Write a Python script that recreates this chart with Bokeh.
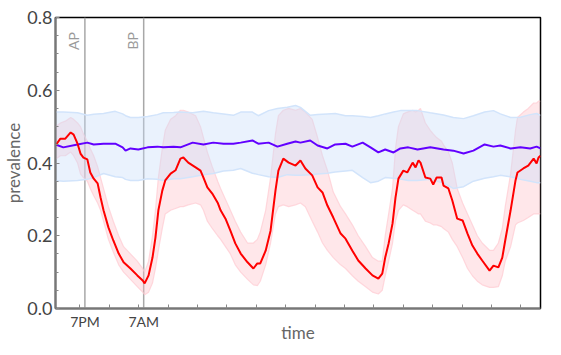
import math
from bokeh.plotting import figure
from bokeh.models import Range1d, FixedTicker, PrintfTickFormatter, Span, Label
from bokeh.embed import file_html
from bokeh.resources import INLINE

# ---- data (hours since start of record) ----
red_hours = [0.0, 1.0, 2.0, 3.1, 3.7, 4.5, 5.1, 5.7, 6.5, 7.1, 7.8, 8.6, 9.2, 9.8, 10.8, 11.8, 12.9, 13.9,
             15.3, 16.7, 17.8, 18.2, 19.0, 19.8, 20.4, 21.0, 21.8, 22.4, 23.5, 24.5, 25.5,
             26.1, 27.1, 28.6, 29.6, 30.2, 31.0, 32.0, 33.1, 33.7, 34.7, 35.7, 36.7, 37.8, 39.2, 40.4,
             41.2, 41.8, 42.9, 43.9, 44.9, 45.5, 46.5, 47.6, 49.0, 50.0,
             51.0, 52.4, 53.5, 54.5, 55.5, 56.7, 58.2, 59.2, 60.6, 61.8, 63.3, 64.7, 65.9, 66.7, 67.3,
             68.0, 68.8, 69.4, 70.0, 71.0, 71.8, 72.9, 73.5, 74.1,
             74.5, 75.5, 76.5, 77.1, 77.8, 78.8, 79.2, 80.2, 81.0, 82.0, 83.1, 84.1, 85.1, 86.1, 87.1,
             88.6, 89.4, 90.4, 91.2, 91.8, 92.9, 93.9, 94.3, 95.5, 96.5, 97.6, 98.2, 98.6, 99.0]
red_mean = [0.448, 0.467, 0.467, 0.484, 0.478, 0.453, 0.426, 0.415, 0.410, 0.374, 0.357, 0.344, 0.305, 0.270,
            0.223, 0.187, 0.151, 0.127, 0.110, 0.091, 0.077, 0.069, 0.091, 0.140, 0.195, 0.270, 0.324, 0.352,
            0.371, 0.380, 0.412,
            0.415, 0.401, 0.388, 0.379, 0.360, 0.333, 0.316, 0.291, 0.270, 0.247, 0.214, 0.179, 0.151, 0.127,
            0.110, 0.124, 0.124, 0.159, 0.214, 0.324, 0.379, 0.412, 0.401, 0.393, 0.407,
            0.385, 0.366, 0.333, 0.319, 0.283, 0.250, 0.206, 0.192, 0.159, 0.132, 0.110, 0.091, 0.082, 0.096,
            0.140, 0.179, 0.234, 0.305, 0.357, 0.379, 0.374, 0.401, 0.388, 0.407,
            0.401, 0.360, 0.357, 0.341, 0.360, 0.360, 0.338, 0.330, 0.297, 0.247, 0.242, 0.206, 0.173, 0.151,
            0.132, 0.104, 0.118, 0.113, 0.140, 0.187, 0.270, 0.352, 0.374, 0.385, 0.393, 0.412, 0.399, 0.415,
            0.420]
red_upper = [0.500, 0.510, 0.515, 0.525, 0.520, 0.510, 0.500, 0.480, 0.460, 0.440, 0.420, 0.390, 0.360, 0.330,
             0.280, 0.240, 0.200, 0.170, 0.150, 0.130, 0.110, 0.100, 0.130, 0.200, 0.270, 0.360, 0.440, 0.490,
             0.520, 0.530, 0.545,
             0.545, 0.540, 0.530, 0.500, 0.470, 0.430, 0.390, 0.350, 0.330, 0.300, 0.270, 0.240, 0.210, 0.180,
             0.180, 0.190, 0.210, 0.270, 0.360, 0.480, 0.530, 0.545, 0.550, 0.545, 0.550,
             0.540, 0.520, 0.470, 0.420, 0.380, 0.320, 0.280, 0.260, 0.230, 0.200, 0.170, 0.140, 0.130, 0.130,
             0.200, 0.260, 0.330, 0.440, 0.500, 0.535, 0.540, 0.545, 0.540, 0.545,
             0.550, 0.510, 0.490, 0.480, 0.470, 0.460, 0.450, 0.430, 0.400, 0.330, 0.290, 0.260, 0.230, 0.200,
             0.180, 0.160, 0.160, 0.180, 0.220, 0.280, 0.370, 0.490, 0.525, 0.540, 0.550, 0.565, 0.565, 0.570,
             0.570]
red_lower = [0.410, 0.420, 0.420, 0.430, 0.420, 0.400, 0.370, 0.360, 0.350, 0.330, 0.310, 0.290, 0.270, 0.240,
             0.190, 0.155, 0.120, 0.100, 0.080, 0.060, 0.045, 0.038, 0.045, 0.070, 0.110, 0.160, 0.220, 0.260,
             0.270, 0.275, 0.280,
             0.280, 0.285, 0.290, 0.285, 0.270, 0.240, 0.220, 0.200, 0.190, 0.170, 0.150, 0.120, 0.100, 0.080,
             0.065, 0.063, 0.075, 0.120, 0.180, 0.260, 0.280, 0.285, 0.280, 0.285, 0.290,
             0.280, 0.240, 0.210, 0.180, 0.160, 0.140, 0.120, 0.110, 0.090, 0.075, 0.060, 0.045, 0.040, 0.050,
             0.090, 0.130, 0.180, 0.240, 0.270, 0.285, 0.280, 0.270, 0.265, 0.260,
             0.260, 0.240, 0.235, 0.230, 0.230, 0.225, 0.220, 0.210, 0.190, 0.170, 0.140, 0.110, 0.090, 0.075,
             0.065, 0.058, 0.058, 0.060, 0.090, 0.130, 0.170, 0.230, 0.235, 0.242, 0.250, 0.260, 0.260, 0.260,
             0.260]

blue_hours = [0.0, 1.6, 4.5, 6.5, 7.8, 9.8, 12.2, 13.7, 14.3, 15.3, 16.9, 18.8, 20.8, 22.0, 24.1, 25.5,
              28.0, 30.2, 32.2, 34.3, 36.3, 37.8, 40.2, 41.4, 43.5, 45.3, 47.3, 49.0, 50.0, 52.0, 53.5,
              55.5, 57.1, 59.2, 60.6, 62.7, 64.3, 65.9, 67.3, 69.0, 70.4, 72.0, 73.9, 76.5, 79.2, 81.2,
              83.3, 85.3, 87.6, 89.4, 90.8, 92.9, 94.9, 96.9, 98.2, 99.0]
blue_mean = [0.451, 0.443, 0.451, 0.456, 0.451, 0.453, 0.453, 0.443, 0.434, 0.440, 0.437, 0.443, 0.445, 0.443,
             0.445, 0.443, 0.456, 0.451, 0.456, 0.453, 0.453, 0.456, 0.462, 0.453, 0.456, 0.445, 0.453, 0.459,
             0.456, 0.462, 0.448, 0.440, 0.451, 0.453, 0.445, 0.456, 0.443, 0.429, 0.437, 0.429, 0.440, 0.443,
             0.437, 0.443, 0.437, 0.434, 0.426, 0.434, 0.451, 0.445, 0.448, 0.440, 0.443, 0.440, 0.445, 0.440]
blue_upper = [0.540, 0.540, 0.538, 0.531, 0.534, 0.536, 0.542, 0.535, 0.530, 0.525, 0.525, 0.528, 0.533, 0.538,
              0.539, 0.540, 0.538, 0.542, 0.538, 0.535, 0.531, 0.540, 0.540, 0.530, 0.544, 0.550, 0.553, 0.558,
              0.553, 0.531, 0.533, 0.535, 0.536, 0.530, 0.530, 0.528, 0.525, 0.530, 0.535, 0.540, 0.544, 0.544,
              0.544, 0.538, 0.532, 0.525, 0.522, 0.530, 0.540, 0.544, 0.535, 0.525, 0.526, 0.533, 0.536, 0.531]
blue_lower = [0.352, 0.350, 0.352, 0.355, 0.360, 0.371, 0.362, 0.360, 0.355, 0.352, 0.352, 0.357, 0.355, 0.352,
              0.357, 0.357, 0.362, 0.368, 0.371, 0.378, 0.380, 0.385, 0.372, 0.368, 0.362, 0.360, 0.368, 0.366,
              0.366, 0.368, 0.370, 0.372, 0.375, 0.378, 0.380, 0.360, 0.346, 0.350, 0.360, 0.358, 0.356, 0.352,
              0.352, 0.355, 0.345, 0.330, 0.335, 0.350, 0.358, 0.362, 0.366, 0.362, 0.355, 0.350, 0.346, 0.346]

tick_hours = [6, 18]
tick_labels = ["7PM", "7AM"]
minor_tick_hours = [5, 11, 17, 23, 29, 35, 41, 47, 53, 59, 65, 71, 77, 83, 89, 95]
marker_hours = [6, 18]
marker_labels = ["AP", "BP"]
y_ticks = [0.0, 0.2, 0.4, 0.6, 0.8]
y_minor_ticks = [0.05, 0.1, 0.15, 0.25, 0.3, 0.35, 0.45, 0.5, 0.55, 0.65, 0.7, 0.75]

FONT = "Lato"

p = figure(width=553, height=347, output_backend="svg", toolbar_location=None,
           x_range=Range1d(0, 99), y_range=Range1d(0, 0.8),
           min_border_left=47, min_border_right=13, min_border_top=17, min_border_bottom=39)
p.xgrid.visible = False
p.ygrid.visible = False
p.outline_line_color = "black"
p.outline_line_width = 1.5
p.background_fill_color = "white"
p.border_fill_color = "white"

# bands
p.varea(x=red_hours, y1=red_lower, y2=red_upper, fill_color="#ffbcc4", fill_alpha=0.36)
p.line(red_hours, red_upper, line_color="#ffcbd1", line_width=1.2, line_alpha=0.7)
p.line(red_hours, red_lower, line_color="#ffcbd1", line_width=1.2, line_alpha=0.7)
p.varea(x=blue_hours, y1=blue_lower, y2=blue_upper, fill_color="#c9defa", fill_alpha=0.38)
p.line(blue_hours, blue_upper, line_color="#d2e4fb", line_width=1.5)
p.line(blue_hours, blue_lower, line_color="#d2e4fb", line_width=1.5)

for h in marker_hours:
    p.add_layout(Span(location=h, dimension="height", line_color="#a8a8a8", line_width=1.5, level="underlay"))

p.line(blue_hours, blue_mean, line_color="#6200ff", line_width=2)
p.line(red_hours, red_mean, line_color="#ff0000", line_width=2)

for h, t in zip(marker_hours, marker_labels):
    p.add_layout(Label(x=h, y=0.76, text=t, angle=math.pi / 2, text_align="right",
                       text_baseline="bottom", x_offset=-3, text_font=FONT,
                       text_font_size="14px", text_color="#9a9a9a"))

# x axis
xa = p.xaxis[0]
xa.ticker = FixedTicker(ticks=tick_hours, minor_ticks=minor_tick_hours)
xa.major_label_overrides = {h: l for h, l in zip(tick_hours, tick_labels)}
xa.axis_label = "time"
xa.major_tick_in = 0
xa.major_tick_out = 0
xa.minor_tick_in = 4
xa.minor_tick_out = 0
xa.minor_tick_line_color = "#888888"
xa.axis_line_color = "#777777"
xa.axis_line_width = 2
xa.major_label_standoff = 4
xa.axis_label_standoff = -11
xa.major_label_text_font = FONT
xa.major_label_text_font_size = "14px"
xa.major_label_text_color = "#444444"
xa.axis_label_text_font = FONT
xa.axis_label_text_font_size = "17px"
xa.axis_label_text_font_style = "normal"
xa.axis_label_text_color = "#666666"

ya = p.yaxis[0]
ya.ticker = FixedTicker(ticks=y_ticks, minor_ticks=y_minor_ticks)
ya.formatter = PrintfTickFormatter(format="%.1f")
ya.axis_label = "prevalence"
ya.major_tick_in = 4
ya.major_tick_out = 0
ya.minor_tick_in = 3
ya.minor_tick_out = 0
ya.major_tick_line_color = "#888888"
ya.minor_tick_line_color = "#888888"
ya.axis_line_color = "#777777"
ya.axis_line_width = 2
ya.major_label_standoff = 3
ya.axis_label_standoff = 0
ya.major_label_text_font = FONT
ya.major_label_text_font_size = "18px"
ya.major_label_text_color = "#444444"
ya.axis_label_text_font = FONT
ya.axis_label_text_font_size = "17px"
ya.axis_label_text_font_style = "normal"
ya.axis_label_text_color = "#666666"

open("out.html", "w").write(file_html(p, INLINE))
